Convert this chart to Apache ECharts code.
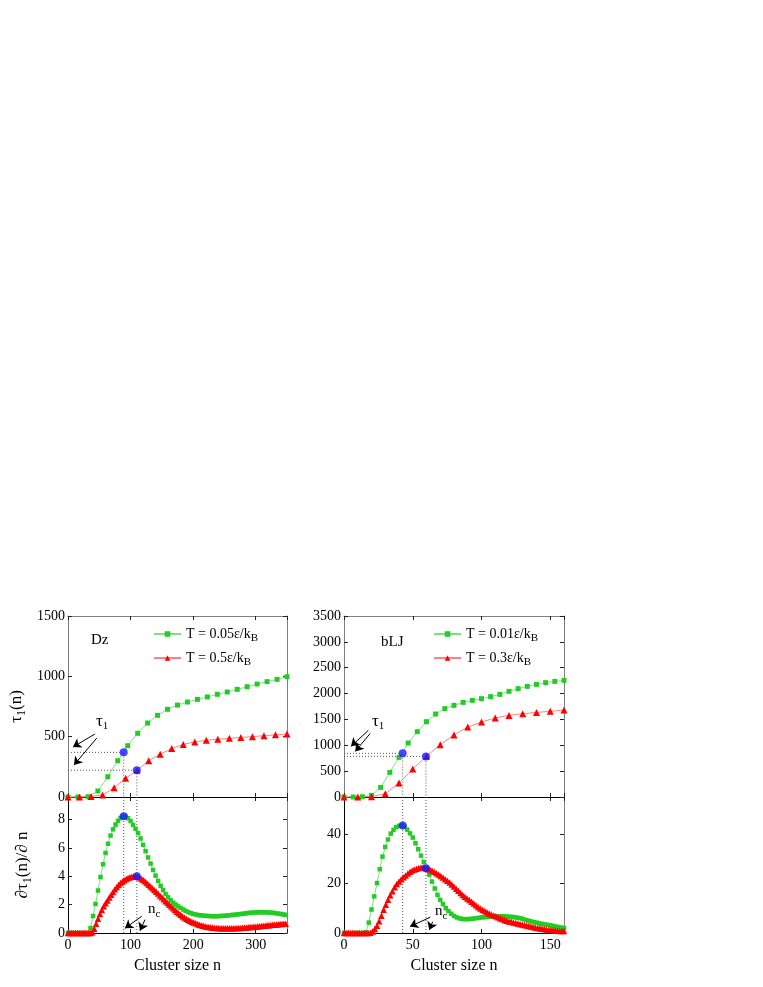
<!DOCTYPE html>
<html>
<head>
<meta charset="utf-8">
<script src="https://cdn.jsdelivr.net/npm/echarts@6.0.0/dist/echarts.min.js"></script>
<style>
  html, body { margin: 0; padding: 0; background: #fff; }
  #chart { width: 763px; height: 987px; }
</style>
</head>
<body>
<div id="chart"></div>
<script>
// ---- Dz, top: tau1(n) ----
const dzTauLowStep = 350 / 22;   // T = 0.05, squares
const dzTauLow = [0, 0, 2, 50, 168, 301, 425, 528, 613, 677, 727, 762, 787, 809, 829, 851, 870, 892, 914, 936, 956, 975, 997];
const dzTauHighStep = 350 / 19;  // T = 0.5, triangles
const dzTauHigh = [0, 0, 5, 17, 77, 155, 222, 301, 355, 401, 436, 456, 470, 479, 486, 494, 500, 508, 515, 522];

// ---- Dz, bottom: d tau1 / dn ----
const dzDerivLowStep = 4;
const dzDerivLow = [0, 0, 0, 0, 0, 0, 0, 0, 0,
  0.35, 1.2, 2.05, 3.0, 3.95, 4.85, 5.65, 6.3, 6.88, 7.32, 7.65, 7.92, 8.12, 8.23, 8.22, 8.1, 7.9, 7.63, 7.36, 7.05,
  6.67, 6.22, 5.78, 5.33, 4.9, 4.45, 4.05, 3.68, 3.33, 3.03, 2.75, 2.52, 2.31, 2.14, 2.01, 1.88, 1.77, 1.66, 1.56,
  1.48, 1.41, 1.35, 1.31, 1.27, 1.25, 1.23, 1.21, 1.2, 1.19, 1.18, 1.18, 1.19, 1.2, 1.21, 1.22, 1.24, 1.26, 1.28,
  1.3, 1.32, 1.34, 1.36, 1.39, 1.41, 1.43, 1.44, 1.45, 1.46, 1.46, 1.46, 1.46, 1.45, 1.44, 1.42, 1.4, 1.37, 1.34,
  1.31, 1.28, 1.25];
const dzDerivHighStep = 3;
const dzDerivHigh = [0, 0, 0, 0, 0, 0, 0, 0, 0, 0, 0, 0, 0,
  0.05, 0.3, 0.65, 1.0, 1.35, 1.62, 1.88, 2.1, 2.3, 2.5, 2.7, 2.9, 3.08, 3.25, 3.4, 3.53, 3.64, 3.73, 3.81, 3.88,
  3.93, 3.97, 3.99,
  4.0, 3.98, 3.93, 3.85, 3.76, 3.65, 3.53, 3.41, 3.28, 3.16, 3.03, 2.91, 2.78, 2.65, 2.52, 2.38, 2.25, 2.12, 1.99,
  1.87, 1.74, 1.62, 1.5, 1.39, 1.29, 1.19, 1.09, 1.0, 0.93, 0.86, 0.8, 0.74, 0.68, 0.63, 0.59, 0.55, 0.51, 0.48,
  0.45, 0.43, 0.41, 0.39, 0.37, 0.36, 0.35, 0.34, 0.33, 0.33, 0.33, 0.33, 0.33, 0.33, 0.34, 0.34, 0.35, 0.35, 0.36,
  0.37, 0.38, 0.39, 0.4, 0.42, 0.43, 0.44, 0.45, 0.47, 0.48, 0.5, 0.51, 0.52, 0.54, 0.55, 0.56, 0.58, 0.59, 0.6,
  0.61, 0.63, 0.64, 0.65, 0.66, 0.67];

// critical sizes n_c (low T, high T), tau1 there, peak of derivative
const dzNc = [89, 110];
const dzTauAtNc = [370, 222];
const dzPeak = [8.25, 4.0];

// ---- bLJ, top: tau1(n) ----
const ljTauLowStep = 160 / 24;   // T = 0.01
const ljTauLow = [0, 0, 5, 31, 186, 476, 766, 1044, 1263, 1456, 1605, 1708, 1772, 1830, 1869, 1901, 1940, 1985, 2043, 2095, 2140, 2178, 2211, 2236, 2255];
const ljTauHighStep = 10;        // T = 0.3
const ljTauHigh = [0, 0, 5, 64, 271, 541, 790, 1012, 1199, 1354, 1450, 1528, 1578, 1611, 1636, 1656, 1682];

// ---- bLJ, bottom: d tau1 / dn ----
const ljDerivLowStep = 2;
const ljDerivLow = [0, 0, 0, 0, 0, 0, 0, 0, 0.3, 4.2, 9.5, 14.8, 20.2, 25.8, 30.9, 34.8, 37.8, 40.2, 41.7, 42.8,
  43.3, 43.5, 43.0, 41.8, 40.3, 38.6, 36.3, 33.9, 31.3, 28.7, 26.4, 23.6, 20.8, 18.0, 15.4, 13.4, 11.7, 10.0, 8.8,
  7.8, 6.9, 6.3, 5.9, 5.7, 5.6, 5.6, 5.7, 5.8, 6.0, 6.1, 6.3, 6.4, 6.5, 6.6, 6.7, 6.8, 6.8, 6.8, 6.8, 6.7, 6.6, 6.5,
  6.4, 6.2, 6.0, 5.7, 5.3, 5.0, 4.7, 4.4, 4.2, 3.9, 3.7, 3.5, 3.3, 3.1, 2.9, 2.6, 2.4, 2.2, 2.0];
const ljDerivHighStep = 1.6;
const ljDerivHigh = [0, 0, 0, 0, 0, 0, 0, 0, 0, 0, 0, 0,
  0.1, 0.6, 1.6, 2.9, 4.8, 7.0, 9.4, 11.4, 13.4, 15.3, 16.9, 18.5, 19.8, 20.8, 21.7, 22.5, 23.3, 24.1, 24.8, 25.3,
  25.7, 26.0, 26.3, 26.5, 26.5, 26.3, 26.1, 25.7, 25.3, 24.8, 24.2, 23.7, 23.1, 22.4, 21.7, 21.1, 20.4, 19.6, 18.8,
  17.9, 17.1, 16.2, 15.4, 14.7, 14.0, 13.3, 12.6, 11.9, 11.2, 10.5, 9.9, 9.4, 8.9, 8.4, 7.9, 7.5, 7.1, 6.8, 6.4,
  6.0, 5.7, 5.3, 5.0, 4.7, 4.5, 4.2, 4.0, 3.8, 3.6, 3.4, 3.2, 3.0, 2.8, 2.6, 2.4, 2.2, 2.0, 1.9, 1.7, 1.6, 1.4,
  1.3, 1.2, 1.1, 1.0, 0.9, 0.8, 0.8, 0.8];

const ljNc = [42.7, 59.6];
const ljTauAtNc = [845, 785];
const ljPeak = [43.5, 26.2];

const legendDz = ['T = 0.05ε/kB', 'T = 0.5ε/kB'];
const legendLj = ['T = 0.01ε/kB', 'T = 0.3ε/kB'];

const FONT = '"Liberation Serif", "Times New Roman", serif';
const GREEN = '#22cc22', GREEN_LINE = '#80e080';
const RED = '#ff0000', RED_LINE = '#ff8080';
const BLUE = '#1a1aff';

const chart = echarts.init(document.getElementById('chart'));

function pairs(step, values) {
  return values.map((v, i) => [+(i * step).toFixed(4), v]);
}

function onlyMultiples(step) {
  return v => (Math.abs(v / step - Math.round(v / step)) < 1e-6 ? String(Math.round(v)) : '');
}

const subRich = { s: { fontSize: 11, fontFamily: FONT, padding: [9, 0, 0, 0] } };

// main + mirror axis for each grid, so every panel is a closed box with inner ticks
function xAxes(g, max, step, showLabels, name, edge) {
  const base = {
    type: 'value', gridIndex: g, min: 0, max: max, interval: step,
    splitLine: { show: false },
    axisTick: { show: true, inside: true, length: 4, lineStyle: { color: '#222' } }
  };
  return [
    Object.assign({}, base, {
      position: 'bottom',
      axisLine: { show: true, onZero: false, lineStyle: { color: '#000', width: 1 } },
      axisLabel: { show: showLabels, formatter: onlyMultiples(step), color: '#000', fontFamily: FONT, fontSize: 14, margin: 5 },
      name: name, nameLocation: 'middle', nameGap: 25,
      nameTextStyle: { color: '#000', fontFamily: FONT, fontSize: 16 }
    }),
    Object.assign({}, base, {
      position: 'top',
      axisLine: { show: true, onZero: false, lineStyle: { color: edge, width: 1 } },
      axisLabel: { show: false }
    })
  ];
}

function yAxes(g, max, step, name, gap, edge) {
  const base = {
    type: 'value', gridIndex: g, min: 0, max: max, interval: step,
    splitLine: { show: false },
    axisTick: { show: true, inside: true, length: 4, lineStyle: { color: '#222' } }
  };
  return [
    Object.assign({}, base, {
      position: 'left',
      axisLine: { show: true, onZero: false, lineStyle: { color: edge, width: 1 } },
      axisLabel: { formatter: onlyMultiples(step), color: '#000', fontFamily: FONT, fontSize: 14, margin: 3 },
      name: name, nameLocation: 'middle', nameGap: gap,
      nameTextStyle: { color: '#000', fontFamily: FONT, fontSize: 17, rich: { s: { fontSize: 12, fontFamily: FONT, padding: [10, 0, 0, 0] } } }
    }),
    Object.assign({}, base, {
      position: 'right',
      axisLine: { show: true, onZero: false, lineStyle: { color: '#808080', width: 1 } },
      axisLabel: { show: false }
    })
  ];
}

function curve(name, g, data, color, lineColor, symbol, size) {
  return {
    type: 'line', name: name, xAxisIndex: g * 2, yAxisIndex: g * 2, data: data,
    symbol: symbol, symbolSize: size, showSymbol: true, showAllSymbol: true,
    itemStyle: { color: color }, lineStyle: { color: lineColor, width: 1 },
    emphasis: { disabled: true }, z: 3
  };
}

function guide(g, data) {
  return {
    type: 'line', xAxisIndex: g * 2, yAxisIndex: g * 2, data: data, symbol: 'none', silent: true,
    lineStyle: { color: '#555', width: 1, type: [1, 2] }, z: 2
  };
}

function arrows(g, list) {
  return {
    type: 'line', xAxisIndex: g * 2, yAxisIndex: g * 2, data: [], symbol: 'none', silent: true,
    markLine: {
      silent: true, symbol: ['none', 'arrow'], symbolSize: 8, animation: false,
      itemStyle: { color: '#000' },
      lineStyle: { color: '#000', width: 1, type: 'solid' }, label: { show: false },
      data: list.map(a => [{ coord: a[0] }, { coord: a[1] }])
    }
  };
}

function dots(g, data) {
  return {
    type: 'scatter', xAxisIndex: g * 2, yAxisIndex: g * 2, data: data, symbol: 'circle', symbolSize: 8,
    itemStyle: { color: BLUE }, silent: true, z: 5
  };
}

const series = [
  // Dz top
  curve(legendDz[0], 0, pairs(dzTauLowStep, dzTauLow), GREEN, GREEN_LINE, 'rect', 5),
  curve(legendDz[1], 0, pairs(dzTauHighStep, dzTauHigh), RED, RED_LINE, 'triangle', 7),
  guide(0, [[0, dzTauAtNc[0]], [dzNc[0], dzTauAtNc[0]], [dzNc[0], 0]]),
  guide(0, [[0, dzTauAtNc[1]], [dzNc[1], dzTauAtNc[1]], [dzNc[1], 0]]),
  dots(0, [[dzNc[0], dzTauAtNc[0]], [dzNc[1], dzTauAtNc[1]]]),
  arrows(0, [[[43, 522], [8, 414]], [[46, 489], [9.6, 265]]]),
  // Dz bottom
  curve('dDz low', 1, pairs(dzDerivLowStep, dzDerivLow), GREEN, GREEN_LINE, 'rect', 4.5),
  curve('dDz high', 1, pairs(dzDerivHighStep, dzDerivHigh), RED, RED_LINE, 'triangle', 6.5),
  guide(1, [[dzNc[0], 9.6], [dzNc[0], 0]]),
  guide(1, [[dzNc[1], 9.6], [dzNc[1], 0]]),
  dots(1, [[dzNc[0], dzPeak[0]], [dzNc[1], dzPeak[1]]]),
  arrows(1, [[[117.7, 1.18], [91, 0.33]], [[123, 0.94], [115, 0.16]]]),
  // bLJ top
  curve(legendLj[0], 2, pairs(ljTauLowStep, ljTauLow), GREEN, GREEN_LINE, 'rect', 5),
  curve(legendLj[1], 2, pairs(ljTauHighStep, ljTauHigh), RED, RED_LINE, 'triangle', 7),
  guide(2, [[0, ljTauAtNc[0]], [ljNc[0], ljTauAtNc[0]], [ljNc[0], 0]]),
  guide(2, [[0, ljTauAtNc[1]], [ljNc[1], ljTauAtNc[1]], [ljNc[1], 0]]),
  dots(2, [[ljNc[0], ljTauAtNc[0]], [ljNc[1], ljTauAtNc[1]]]),
  arrows(2, [[[17.7, 1288], [5.1, 979]], [[18.9, 1224], [8.2, 882]]]),
  // bLJ bottom
  curve('dLJ low', 3, pairs(ljDerivLowStep, ljDerivLow), GREEN, GREEN_LINE, 'rect', 4.5),
  curve('dLJ high', 3, pairs(ljDerivHighStep, ljDerivHigh), RED, RED_LINE, 'triangle', 6.5),
  guide(3, [[ljNc[0], 55], [ljNc[0], 0]]),
  guide(3, [[ljNc[1], 55], [ljNc[1], 0]]),
  dots(3, [[ljNc[0], ljPeak[0]], [ljNc[1], ljPeak[1]]]),
  arrows(3, [[[62.8, 6.4], [48, 2.6]], [[64.5, 4.6], [62, 1.2]]])
];

function legendAt(left, names) {
  return {
    data: names, orient: 'vertical', left: left, top: 627, padding: 0,
    itemWidth: 27, itemHeight: 7, itemGap: 7,
    selectedMode: false,
    formatter: n => n.replace(/B$/, '{s|B}'),
    textStyle: { color: '#000', fontFamily: FONT, fontSize: 14, rich: subRich }
  };
}

function label(text, left, top, size) {
  return {
    type: 'text', left: left, top: top, silent: true,
    style: { text: text, fill: '#000', fontFamily: FONT, fontSize: size, rich: { s: { fontSize: 11, fontFamily: FONT, padding: [9, 0, 0, 0] } } }
  };
}

chart.setOption({
  animation: false,
  backgroundColor: '#fff',
  grid: [
    { left: 68, top: 616, width: 219, height: 181 },
    { left: 68, top: 797, width: 219, height: 136 },
    { left: 344, top: 616, width: 220, height: 181 },
    { left: 344, top: 797, width: 220, height: 136 }
  ],
  xAxis: [].concat(
    xAxes(0, 350, 100, false, '', '#808080'),
    xAxes(1, 350, 100, true, 'Cluster size n', '#000'),
    xAxes(2, 160, 50, false, '', '#808080'),
    xAxes(3, 160, 50, true, 'Cluster size n', '#000')
  ),
  yAxis: [].concat(
    yAxes(0, 1500, 500, 'τ{s|1}(n)', 40, '#808080'),
    yAxes(1, 9.6, 2, '∂τ{s|1}(n)/∂ n', 34, '#000'),
    yAxes(2, 3500, 500, '', 0, '#808080'),
    yAxes(3, 55, 20, '', 0, '#000')
  ),
  legend: [legendAt(153, legendDz), legendAt(433, legendLj)],
  graphic: [
    label('Dz', 91, 633, 15),
    label('bLJ', 381, 635, 15),
    label('τ{s|1}', 96, 713, 17),
    label('τ{s|1}', 372, 713, 17),
    label('n{s|c}', 148, 902, 15),
    label('n{s|c}', 435, 904, 15)
  ],
  series: series
});
</script>
</body>
</html>
